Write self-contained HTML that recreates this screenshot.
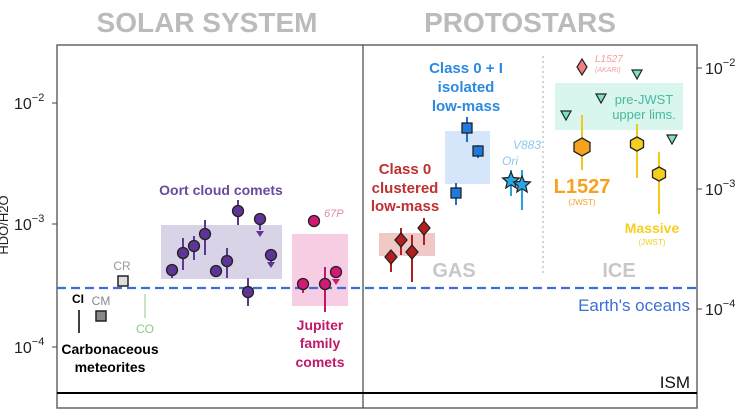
<!DOCTYPE html><html><head><style>body{margin:0;background:#fff}svg{display:block;font-family:"Liberation Sans",sans-serif}</style></head><body>
<svg width="744" height="420" viewBox="0 0 744 420">
<text x="207" y="32" font-size="28" font-weight="bold" fill="#bbb" text-anchor="middle">SOLAR SYSTEM</text>
<text x="520" y="32" font-size="28" font-weight="bold" fill="#bbb" text-anchor="middle">PROTOSTARS</text>
<rect x="57" y="45" width="640" height="363" fill="none" stroke="#666" stroke-width="1.5"/>
<line x1="363" y1="45" x2="363" y2="408" stroke="#444" stroke-width="1.2"/>
<line x1="57" y1="393" x2="697" y2="393" stroke="#000" stroke-width="2"/>
<!-- axis ticks -->
<g stroke="#444"><line x1="52" y1="103" x2="57" y2="103"/><line x1="52" y1="224" x2="57" y2="224"/><line x1="52" y1="347" x2="57" y2="347"/>
<line x1="697" y1="68" x2="702" y2="68"/><line x1="697" y1="189" x2="702" y2="189"/><line x1="697" y1="309" x2="702" y2="309"/></g>
<g font-size="16" fill="#222"><text x="14" y="109">10<tspan font-size="11" dy="-8">−2</tspan></text><text x="14" y="230">10<tspan font-size="11" dy="-8">−3</tspan></text><text x="14" y="353">10<tspan font-size="11" dy="-8">−4</tspan></text>
<text x="705" y="74">10<tspan font-size="11" dy="-8">−2</tspan></text><text x="705" y="195">10<tspan font-size="11" dy="-8">−3</tspan></text><text x="705" y="315">10<tspan font-size="11" dy="-8">−4</tspan></text></g>
<text transform="translate(8,225) rotate(-90)" font-size="13" fill="#222" text-anchor="middle">HDO/H2O</text>
<!-- boxes -->
<rect x="161" y="225" width="121" height="54" fill="#d9d3e8"/>
<rect x="292" y="234" width="56" height="72" fill="#f6cde3"/>
<rect x="379" y="233" width="56" height="23" fill="#f0c8c6"/>
<rect x="445" y="131" width="45" height="53" fill="#d6e6fa"/>
<rect x="555" y="83" width="128" height="47" fill="#d8f5ee"/>
<line x1="543" y1="56" x2="543" y2="275" stroke="#aaa" stroke-dasharray="2,3"/>
<line x1="57" y1="288" x2="697" y2="288" stroke="#3b6fd6" stroke-width="2.2" stroke-dasharray="9,5"/>
<!-- meteorites -->
<line x1="79" y1="310" x2="79" y2="333" stroke="#000" stroke-width="1.5"/>
<text x="78" y="303" font-size="12" font-weight="bold" text-anchor="middle">CI</text>
<rect x="96" y="311" width="10" height="10" fill="#888" stroke="#222" stroke-width="1.5"/>
<text x="101" y="305" font-size="12" fill="#888" text-anchor="middle">CM</text>
<rect x="118" y="276" width="10" height="10" fill="#ddd" stroke="#222" stroke-width="1.5"/>
<text x="122" y="270" font-size="12" fill="#999" text-anchor="middle">CR</text>
<line x1="145" y1="294" x2="145" y2="318" stroke="#8c8"/>
<text x="145" y="333" font-size="12" fill="#8c8" text-anchor="middle">CO</text>
<text x="110" y="354" font-size="14" font-weight="bold" text-anchor="middle">Carbonaceous</text>
<text x="110" y="372" font-size="14" font-weight="bold" text-anchor="middle">meteorites</text>
<!-- Oort -->
<g stroke="#5b3a8c" stroke-width="2"><line x1="172" y1="265" x2="172" y2="278"/><line x1="183" y1="238" x2="183" y2="270"/><line x1="194" y1="236" x2="194" y2="260"/><line x1="205" y1="220" x2="205" y2="255"/><line x1="227" y1="248" x2="227" y2="278"/><line x1="238" y1="200" x2="238" y2="225"/><line x1="248" y1="278" x2="248" y2="306"/><line x1="260" y1="219" x2="260" y2="230"/><line x1="271" y1="255" x2="271" y2="265"/></g>
<g fill="#5e3596" stroke="#222" stroke-width="1.3"><circle cx="172" cy="270" r="5.5"/><circle cx="183" cy="253" r="5.5"/><circle cx="194" cy="246" r="5.5"/><circle cx="205" cy="234" r="5.5"/><circle cx="216" cy="271" r="5.5"/><circle cx="227" cy="261" r="5.5"/><circle cx="238" cy="211" r="5.5"/><circle cx="248" cy="292" r="5.5"/><circle cx="260" cy="219" r="5.5"/><circle cx="271" cy="255" r="5.5"/></g>
<g fill="#5e3596"><path d="M256 231h8l-4 6z"/><path d="M267 262h8l-4 6z"/></g>
<text x="221" y="195" font-size="14" font-weight="bold" fill="#6a4a9c" text-anchor="middle">Oort cloud comets</text>
<!-- JFC -->
<g stroke="#c0186a" stroke-width="2"><line x1="303" y1="284" x2="303" y2="293"/><line x1="325" y1="267" x2="325" y2="312"/></g>
<g fill="#d01a75" stroke="#222" stroke-width="1.3"><circle cx="303" cy="284" r="5.5"/><circle cx="325" cy="284" r="5.5"/><circle cx="336" cy="272" r="5.5"/><circle cx="314" cy="221" r="5.5"/></g>
<path d="M332 279h8l-4 6z" fill="#d01a75"/>
<text x="324" y="217" font-size="11" font-style="italic" fill="#e08aa8">67P</text>
<g font-size="14" font-weight="bold" fill="#c0186a" text-anchor="middle"><text x="320" y="330">Jupiter</text><text x="320" y="348">family</text><text x="320" y="367">comets</text></g>
<!-- Class 0 clustered -->
<g stroke="#b02020" stroke-width="2"><line x1="391" y1="250" x2="391" y2="272"/><line x1="401" y1="228" x2="401" y2="255"/><line x1="412" y1="235" x2="412" y2="282"/><line x1="424" y1="218" x2="424" y2="245"/></g>
<g fill="#b41e1e" stroke="#222" stroke-width="1.3"><path d="M391 250l6 7-6 7-6-7z"/><path d="M401 233l6 7-6 7-6-7z"/><path d="M412 245l6 7-6 7-6-7z"/><path d="M424 221l6 7-6 7-6-7z"/></g>
<g font-size="15" font-weight="bold" fill="#c03030" text-anchor="middle"><text x="405" y="174">Class 0</text><text x="405" y="193">clustered</text><text x="405" y="211">low-mass</text></g>
<!-- isolated -->
<g stroke="#1e6fd0" stroke-width="2"><line x1="467" y1="117" x2="467" y2="142"/><line x1="478" y1="145" x2="478" y2="158"/><line x1="456" y1="183" x2="456" y2="205"/><line x1="511" y1="170" x2="511" y2="196" stroke="#2aa0dd"/><line x1="522" y1="170" x2="522" y2="210" stroke="#2aa0dd"/></g>
<g fill="#1e7ae0" stroke="#222" stroke-width="1.3"><rect x="462" y="123" width="10" height="10"/><rect x="473" y="146" width="10" height="10"/><rect x="451" y="188" width="10" height="10"/></g>
<g fill="#29a6e6" stroke="#222" stroke-width="1.2"><path d="M511 172l2.4 5.5 6 .5-4.6 4 1.4 6-5.2-3.2-5.2 3.2 1.4-6-4.6-4 6-.5z"/><path d="M522 176l2.4 5.5 6 .5-4.6 4 1.4 6-5.2-3.2-5.2 3.2 1.4-6-4.6-4 6-.5z"/></g>
<g font-size="15" font-weight="bold" fill="#2a8ae0" text-anchor="middle"><text x="466" y="73">Class 0 + I</text><text x="466" y="92">isolated</text><text x="466" y="111">low-mass</text></g>
<g font-size="12" font-style="italic" fill="#8cc8ee" text-anchor="middle"><text x="527" y="149">V883</text><text x="510" y="165">Ori</text></g>
<text x="454" y="277" font-size="20" font-weight="bold" fill="#c8c8c8" text-anchor="middle">GAS</text>
<text x="619" y="277" font-size="20" font-weight="bold" fill="#c8c8c8" text-anchor="middle">ICE</text>
<!-- ICE -->
<path d="M582 59l5 8-5 8-5-8z" fill="#f08080" stroke="#222" stroke-width="1.2"/>
<g font-size="10" font-style="italic" fill="#f0a0a0"><text x="595" y="62">L1527</text><text x="595" y="72" font-size="7">(AKARI)</text></g>
<g fill="#7ee0bd" stroke="#222" stroke-width="1.2"><path d="M632 70h10l-5 9z"/><path d="M596 94h10l-5 9z"/><path d="M561 111h10l-5 9z"/><path d="M667 135h10l-5 9z"/></g>
<g font-size="13" fill="#4ab8a0" text-anchor="middle"><text x="644" y="104">pre-JWST</text><text x="644" y="119">upper lims.</text></g>
<g stroke="#f3c81a" stroke-width="2"><line x1="582" y1="115" x2="582" y2="170"/><line x1="637" y1="124" x2="637" y2="178"/><line x1="659" y1="152" x2="659" y2="214"/></g>
<path d="M582 138l8 4.5v9l-8 4.5-8-4.5v-9z" fill="#f7a21c" stroke="#222" stroke-width="1.3"/>
<path d="M637 137l6.5 3.5v7l-6.5 3.5-6.5-3.5v-7z" fill="#f5cf1c" stroke="#222" stroke-width="1.3"/>
<path d="M659 167l6.5 3.5v7l-6.5 3.5-6.5-3.5v-7z" fill="#f5cf1c" stroke="#222" stroke-width="1.3"/>
<text x="582" y="193" font-size="20" font-weight="bold" fill="#f7a21c" text-anchor="middle">L1527</text>
<text x="582" y="205" font-size="8" fill="#f7a21c" text-anchor="middle">(JWST)</text>
<text x="652" y="233" font-size="14" font-weight="bold" fill="#f3d020" text-anchor="middle">Massive</text>
<text x="652" y="245" font-size="8" fill="#f3d020" text-anchor="middle">(JWST)</text>
<text x="690" y="311" font-size="17" fill="#3b6fd6" text-anchor="end">Earth's oceans</text>
<text x="690" y="388" font-size="17" fill="#111" text-anchor="end">ISM</text>
</svg></body></html>
